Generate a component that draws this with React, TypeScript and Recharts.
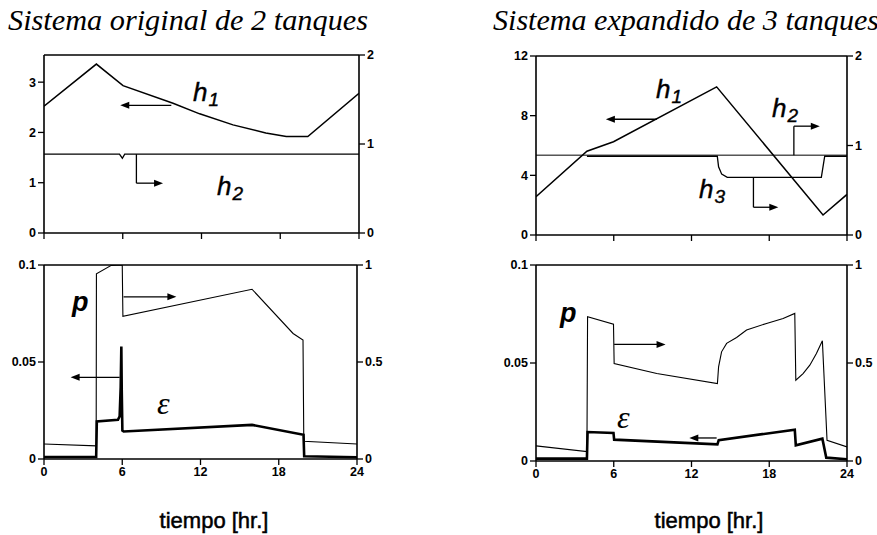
import React from "react";
import { LineChart, Line, XAxis, YAxis, ReferenceLine } from "recharts";

// tiempo [hr.]
const xTicks = [0, 6, 12, 18, 24];

type Pt = { t: number; v: number };

// Sistema original de 2 tanques - niveles
const origH1: Pt[] = [
	{ t: 0, v: 2.52 },
	{ t: 3.99, v: 3.36 },
	{ t: 6.02, v: 2.93 },
	{ t: 9.83, v: 2.58 },
	{ t: 11.86, v: 2.37 },
	{ t: 14.4, v: 2.15 },
	{ t: 16.9, v: 1.99 },
	{ t: 18.46, v: 1.92 },
	{ t: 20.1, v: 1.92 },
	{ t: 24, v: 2.78 },
];
const origH2: Pt[] = [
	{ t: 0, v: 0.886 },
	{ t: 5.75, v: 0.886 },
	{ t: 5.97, v: 0.84 },
	{ t: 6.15, v: 0.886 },
	{ t: 24, v: 0.886 },
];

// Sistema original - p y epsilon
const origP: Pt[] = [
	{ t: 0, v: 0.077 },
	{ t: 4.0, v: 0.068 },
	{ t: 4.02, v: 0.955 },
	{ t: 5.16, v: 0.998 },
	{ t: 6.0, v: 1.0 },
	{ t: 6.05, v: 0.736 },
	{ t: 15.95, v: 0.875 },
	{ t: 19.1, v: 0.647 },
	{ t: 19.86, v: 0.613 },
	{ t: 19.92, v: 0.091 },
	{ t: 24, v: 0.077 },
];
const origE: Pt[] = [
	{ t: 0, v: 0.001 },
	{ t: 4.0, v: 0.001 },
	{ t: 4.05, v: 0.0193 },
	{ t: 5.67, v: 0.0202 },
	{ t: 5.8, v: 0.022 },
	{ t: 5.88, v: 0.037 },
	{ t: 5.93, v: 0.058 },
	{ t: 5.96, v: 0.036 },
	{ t: 6.01, v: 0.0147 },
	{ t: 6.11, v: 0.0142 },
	{ t: 15.95, v: 0.0176 },
	{ t: 19.9, v: 0.0125 },
	{ t: 19.95, v: 0.0014 },
	{ t: 24, v: 0.0009 },
];

// Sistema expandido de 3 tanques - niveles
const expH1: Pt[] = [
	{ t: 0, v: 2.57 },
	{ t: 3.93, v: 5.62 },
	{ t: 5.98, v: 6.25 },
	{ t: 13.94, v: 9.93 },
	{ t: 22.15, v: 1.34 },
	{ t: 24, v: 2.72 },
];
const expH2: Pt[] = [
	{ t: 0, v: 0.892 },
	{ t: 24, v: 0.892 },
];
const expH3: Pt[] = [
	{ t: 3.93, v: 0.88 },
	{ t: 13.99, v: 0.88 },
	{ t: 14.09, v: 0.762 },
	{ t: 14.33, v: 0.68 },
	{ t: 14.76, v: 0.644 },
	{ t: 22.02, v: 0.644 },
	{ t: 22.28, v: 0.88 },
	{ t: 24, v: 0.88 },
];

// Sistema expandido - p y epsilon
const expP: Pt[] = [
	{ t: 0, v: 0.077 },
	{ t: 3.93, v: 0.048 },
	{ t: 3.98, v: 0.736 },
	{ t: 5.98, v: 0.698 },
	{ t: 6.03, v: 0.497 },
	{ t: 9.32, v: 0.446 },
	{ t: 14.0, v: 0.395 },
	{ t: 14.09, v: 0.48 },
	{ t: 14.32, v: 0.557 },
	{ t: 14.71, v: 0.6 },
	{ t: 15.48, v: 0.63 },
	{ t: 16.25, v: 0.668 },
	{ t: 17.79, v: 0.702 },
	{ t: 19.07, v: 0.727 },
	{ t: 19.97, v: 0.753 },
	{ t: 20.05, v: 0.412 },
	{ t: 20.61, v: 0.446 },
	{ t: 21.13, v: 0.489 },
	{ t: 21.64, v: 0.549 },
	{ t: 22.1, v: 0.613 },
	{ t: 22.46, v: 0.106 },
	{ t: 24, v: 0.072 },
];
const expE: Pt[] = [
	{ t: 0, v: 0.0012 },
	{ t: 3.93, v: 0.0012 },
	{ t: 3.98, v: 0.0148 },
	{ t: 5.98, v: 0.0143 },
	{ t: 6.03, v: 0.0109 },
	{ t: 14.0, v: 0.0085 },
	{ t: 14.1, v: 0.0106 },
	{ t: 19.97, v: 0.016 },
	{ t: 20.05, v: 0.008 },
	{ t: 22.1, v: 0.0114 },
	{ t: 22.4, v: 0.0017 },
	{ t: 24, v: 0.0009 },
];

type Arrow = { axis: "l" | "r"; pts: [number, number][] };

const origTopArrows: Arrow[] = [
	{ axis: "l", pts: [[9.7, 2.54], [5.81, 2.54]] },
	{ axis: "r", pts: [[7.04, 0.886], [7.04, 0.56], [9.07, 0.56]] },
];
const origBotArrows: Arrow[] = [
	{ axis: "r", pts: [[6.1, 0.836], [10.15, 0.836]] },
	{ axis: "l", pts: [[5.8, 0.0421], [2.04, 0.0421]] },
];
const expTopArrows: Arrow[] = [
	{ axis: "l", pts: [[9.32, 7.76], [5.39, 7.76]] },
	{ axis: "r", pts: [[19.9, 0.892], [19.9, 1.216], [21.9, 1.216]] },
	{ axis: "r", pts: [[16.78, 0.644], [16.78, 0.31], [18.7, 0.31]] },
];
const expBotArrows: Arrow[] = [
	{ axis: "r", pts: [[6.03, 0.595], [10.0, 0.595]] },
	{ axis: "l", pts: [[13.94, 0.01175], [11.83, 0.01175]] },
];

const sans = "Liberation Sans, Arial, sans-serif";
const serif = "Liberation Serif, Times New Roman, serif";

// bold tick labels, drawn by hand so the weight sticks
const BoldTick = (hide: boolean) => (props: any) => {
	const { x, y, payload, textAnchor, verticalAnchor } = props;
	if (hide) return <g />;
	const dy = verticalAnchor === "start" ? "0.71em" : verticalAnchor === "end" ? "0" : "0.355em";
	return (
		<text
			x={x}
			y={y}
			dy={dy}
			textAnchor={textAnchor}
			fill="#000"
			fontSize={12.5}
			fontWeight="bold"
			fontFamily={sans}
		>
			{payload.value}
		</text>
	);
};

const arrowShape = (head: boolean) => (props: any) => {
	const { x1, y1, x2, y2 } = props;
	if ([x1, y1, x2, y2].some((v) => v == null || isNaN(v))) return <g />;
	const a = Math.atan2(y2 - y1, x2 - x1);
	const L = 9;
	const W = 3.5;
	const bx = x2 - L * Math.cos(a);
	const by = y2 - L * Math.sin(a);
	const pts = `${x2},${y2} ${bx + W * Math.sin(a)},${by - W * Math.cos(a)} ${bx - W * Math.sin(a)},${by + W * Math.cos(a)}`;
	return (
		<g>
			<line
				x1={x1}
				y1={y1}
				x2={head ? bx + Math.cos(a) : x2}
				y2={head ? by + Math.sin(a) : y2}
				stroke="#000"
				strokeWidth={1.3}
			/>
			{head && <polygon points={pts} fill="#000" />}
		</g>
	);
};

type Series = { data: Pt[]; axis: "l" | "r"; w: number };

const Panel = ({
	left,
	top,
	width,
	height,
	margin,
	lw,
	rw,
	xh,
	showX,
	lDomain,
	lTicks,
	rDomain,
	rTicks,
	series,
	arrows,
}: {
	left: number;
	top: number;
	width: number;
	height: number;
	margin: any;
	lw: number;
	rw: number;
	xh: number;
	showX: boolean;
	lDomain: [number, number];
	lTicks: number[];
	rDomain: [number, number];
	rTicks: number[];
	series: Series[];
	arrows: Arrow[];
}) => {
	return (
		<div style={{ position: "absolute", left, top }}>
			<LineChart
				width={width}
				height={height}
				margin={margin}
			>
				<XAxis
					dataKey="t"
					type="number"
					domain={[0, 24]}
					ticks={xTicks}
					interval={0}
					allowDataOverflow
					height={xh}
					axisLine={{ stroke: "#000", strokeWidth: 1.6 }}
					tickLine={{ stroke: "#000", strokeWidth: 1.3 }}
					tick={BoldTick(!showX)}
				/>
				<YAxis
					yAxisId="l"
					width={lw}
					domain={lDomain}
					ticks={lTicks}
					interval={0}
					allowDataOverflow
					axisLine={{ stroke: "#000", strokeWidth: 1.6 }}
					tickLine={{ stroke: "#000", strokeWidth: 1.3 }}
					tick={BoldTick(false)}
				/>
				<YAxis
					yAxisId="r"
					orientation="right"
					width={rw}
					domain={rDomain}
					ticks={rTicks}
					interval={0}
					allowDataOverflow
					axisLine={{ stroke: "#000", strokeWidth: 1.6 }}
					tickLine={{ stroke: "#000", strokeWidth: 1.3 }}
					tick={BoldTick(false)}
				/>
				<ReferenceLine
					yAxisId="r"
					y={rDomain[1]}
					stroke="#000"
					strokeWidth={1.6}
				/>
				{series.map((s, i) => (
					<Line
						key={i}
						data={s.data}
						dataKey="v"
						yAxisId={s.axis}
						type="linear"
						stroke="#000"
						strokeWidth={s.w}
						dot={false}
						activeDot={false}
						isAnimationActive={false}
					/>
				))}
				{arrows.flatMap((a, i) =>
					a.pts.slice(1).map((p, j) => (
						<ReferenceLine
							key={`${i}-${j}`}
							yAxisId={a.axis}
							segment={[
								{ x: a.pts[j][0], y: a.pts[j][1] },
								{ x: p[0], y: p[1] },
							]}
							ifOverflow="visible"
							shape={arrowShape(j === a.pts.length - 2)}
						/>
					))
				)}
			</LineChart>
		</div>
	);
};

const HLabel = ({ x, y, sub }: { x: number; y: number; sub: string }) => (
	<text
		x={x}
		y={y}
		fontFamily={sans}
		fontStyle="italic"
		fontSize={26}
		stroke="#000"
		strokeWidth={0.4}
	>
		h
		<tspan
			fontSize={19}
			dy={5}
			dx={1}
		>
			{sub}
		</tspan>
	</text>
);

export default function App() {
	return (
		<div
			style={{
				position: "absolute",
				left: 0,
				top: 0,
				width: 877,
				height: 535,
				background: "#fff",
				overflow: "hidden",
			}}
		>
			<Panel
				left={0}
				top={45}
				width={400}
				height={215}
				margin={{ top: 10, right: 0, bottom: 7, left: 0 }}
				lw={44}
				rw={41}
				xh={20}
				showX={false}
				lDomain={[0, 3.54]}
				lTicks={[0, 1, 2, 3]}
				rDomain={[0, 2]}
				rTicks={[0, 1, 2]}
				series={[
					{ data: origH1, axis: "l", w: 1.5 },
					{ data: origH2, axis: "r", w: 1.3 },
				]}
				arrows={origTopArrows}
			/>
			<Panel
				left={0}
				top={255}
				width={400}
				height={234}
				margin={{ top: 10, right: 0, bottom: 0, left: 0 }}
				lw={44}
				rw={43}
				xh={30}
				showX={true}
				lDomain={[0, 0.1]}
				lTicks={[0, 0.05, 0.1]}
				rDomain={[0, 1]}
				rTicks={[0, 0.5, 1]}
				series={[
					{ data: origP, axis: "r", w: 1.1 },
					{ data: origE, axis: "l", w: 2.6 },
				]}
				arrows={origBotArrows}
			/>
			<Panel
				left={490}
				top={46}
				width={387}
				height={214}
				margin={{ top: 10, right: 0, bottom: 5, left: 0 }}
				lw={46}
				rw={30}
				xh={20}
				showX={false}
				lDomain={[0, 12]}
				lTicks={[0, 4, 8, 12]}
				rDomain={[0, 2]}
				rTicks={[0, 1, 2]}
				series={[
					{ data: expH1, axis: "l", w: 1.5 },
					{ data: expH2, axis: "r", w: 1.0 },
					{ data: expH3, axis: "r", w: 1.3 },
				]}
				arrows={expTopArrows}
			/>
			<Panel
				left={490}
				top={255}
				width={387}
				height={236}
				margin={{ top: 10, right: 0, bottom: 0, left: 0 }}
				lw={46}
				rw={30}
				xh={30}
				showX={true}
				lDomain={[0, 0.1]}
				lTicks={[0, 0.05, 0.1]}
				rDomain={[0, 1]}
				rTicks={[0, 0.5, 1]}
				series={[
					{ data: expP, axis: "r", w: 1.1 },
					{ data: expE, axis: "l", w: 2.6 },
				]}
				arrows={expBotArrows}
			/>
			<svg
				width={877}
				height={535}
				style={{ position: "absolute", left: 0, top: 0, pointerEvents: "none" }}
			>
				<text
					x={8}
					y={30}
					fontFamily={serif}
					fontStyle="italic"
					fontSize={29}
					textLength={360}
					lengthAdjust="spacingAndGlyphs"
				>
					Sistema original de 2 tanques
				</text>
				<text
					x={493}
					y={30}
					fontFamily={serif}
					fontStyle="italic"
					fontSize={29}
					textLength={386}
					lengthAdjust="spacingAndGlyphs"
				>
					Sistema expandido de 3 tanques
				</text>
				<text
					x={214}
					y={528}
					fontFamily={sans}
					fontSize={22}
					textAnchor="middle"
					stroke="#000"
					strokeWidth={0.5}
				>
					tiempo [hr.]
				</text>
				<text
					x={709}
					y={528}
					fontFamily={sans}
					fontSize={22}
					textAnchor="middle"
					stroke="#000"
					strokeWidth={0.5}
				>
					tiempo [hr.]
				</text>
				<HLabel x={193} y={101} sub="1" />
				<HLabel x={217} y={195} sub="2" />
				<HLabel x={656} y={98} sub="1" />
				<HLabel x={772} y={117} sub="2" />
				<HLabel x={699} y={198} sub="3" />
				<text
					x={72}
					y={311}
					fontFamily={sans}
					fontStyle="italic"
					fontWeight={700}
					fontSize={27}
				>
					p
				</text>
				<text
					x={157}
					y={414}
					fontFamily={serif}
					fontStyle="italic"
					fontSize={32}
				>
					ε
				</text>
				<text
					x={560}
					y={322}
					fontFamily={sans}
					fontStyle="italic"
					fontWeight={700}
					fontSize={27}
				>
					p
				</text>
				<text
					x={617}
					y={428}
					fontFamily={serif}
					fontStyle="italic"
					fontSize={32}
				>
					ε
				</text>
			</svg>
		</div>
	);
}
